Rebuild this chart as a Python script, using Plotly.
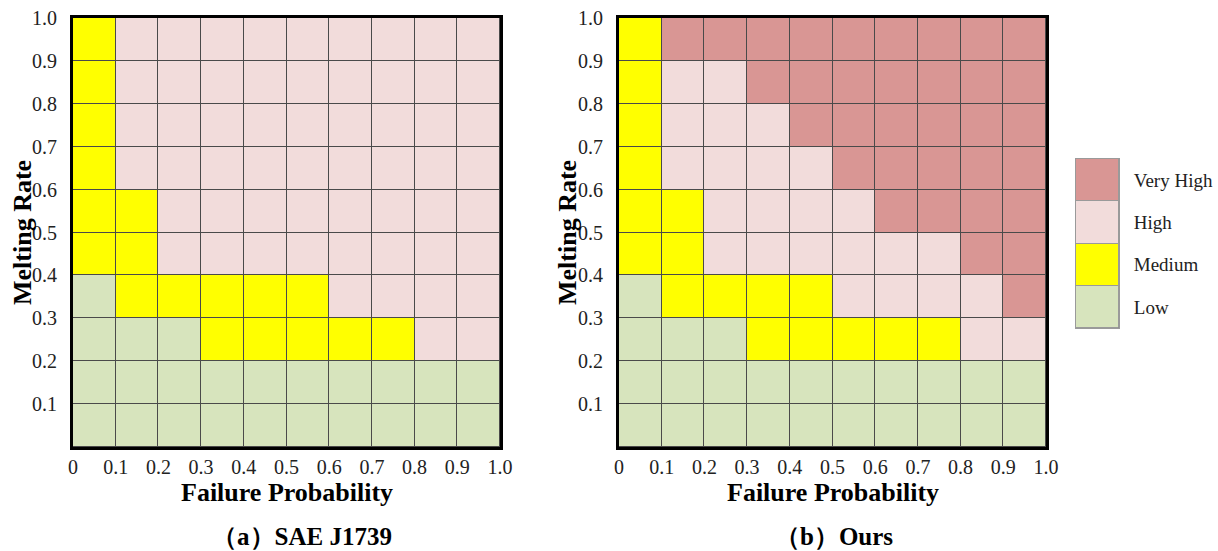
import plotly.graph_objects as go

# ---- data ----
levels = ["Low", "Medium", "High", "Very High"]
level_colors = ["#D7E4BD", "#FFFF00", "#F2DCDB", "#D99694"]

prob_centers = [0.05, 0.15, 0.25, 0.35, 0.45, 0.55, 0.65, 0.75, 0.85, 0.95]
rate_centers = [0.05, 0.15, 0.25, 0.35, 0.45, 0.55, 0.65, 0.75, 0.85, 0.95]

x_tickvals = [0, 0.1, 0.2, 0.3, 0.4, 0.5, 0.6, 0.7, 0.8, 0.9, 1.0]
x_ticktext = ["0", "0.1", "0.2", "0.3", "0.4", "0.5", "0.6", "0.7", "0.8", "0.9", "1.0"]
y_tickvals = [0.1, 0.2, 0.3, 0.4, 0.5, 0.6, 0.7, 0.8, 0.9, 1.0]
y_ticktext = ["0.1", "0.2", "0.3", "0.4", "0.5", "0.6", "0.7", "0.8", "0.9", "1.0"]

# rows from melting rate 0-0.1 (bottom) to 0.9-1.0 (top); 0=Low 1=Medium 2=High 3=Very High
sae_grid = [
    [0, 0, 0, 0, 0, 0, 0, 0, 0, 0],
    [0, 0, 0, 0, 0, 0, 0, 0, 0, 0],
    [0, 0, 0, 1, 1, 1, 1, 1, 2, 2],
    [0, 1, 1, 1, 1, 1, 2, 2, 2, 2],
    [1, 1, 2, 2, 2, 2, 2, 2, 2, 2],
    [1, 1, 2, 2, 2, 2, 2, 2, 2, 2],
    [1, 2, 2, 2, 2, 2, 2, 2, 2, 2],
    [1, 2, 2, 2, 2, 2, 2, 2, 2, 2],
    [1, 2, 2, 2, 2, 2, 2, 2, 2, 2],
    [1, 2, 2, 2, 2, 2, 2, 2, 2, 2],
]
ours_grid = [
    [0, 0, 0, 0, 0, 0, 0, 0, 0, 0],
    [0, 0, 0, 0, 0, 0, 0, 0, 0, 0],
    [0, 0, 0, 1, 1, 1, 1, 1, 2, 2],
    [0, 1, 1, 1, 1, 2, 2, 2, 2, 3],
    [1, 1, 2, 2, 2, 2, 2, 2, 3, 3],
    [1, 1, 2, 2, 2, 2, 3, 3, 3, 3],
    [1, 2, 2, 2, 2, 3, 3, 3, 3, 3],
    [1, 2, 2, 2, 3, 3, 3, 3, 3, 3],
    [1, 2, 2, 3, 3, 3, 3, 3, 3, 3],
    [1, 3, 3, 3, 3, 3, 3, 3, 3, 3],
]
legend_values = [1, 1, 1, 1]
legend_bases = [0, 1, 2, 3]

# ---- figure ----
W, H = 1218, 551
serif = "Liberation Serif, Times New Roman, serif"
GRID = "#4a4a4a"

colorscale = []
n = len(level_colors)
for i, c in enumerate(level_colors):
    colorscale.append([i / n, c])
    colorscale.append([(i + 1) / n, c])

fig = go.Figure()

for grid, xa, ya in [(sae_grid, "x", "y"), (ours_grid, "x2", "y2")]:
    fig.add_trace(go.Heatmap(
        z=grid, x=prob_centers, y=rate_centers,
        colorscale=colorscale, zmin=-0.5, zmax=3.5, showscale=False,
        xgap=1, ygap=1, xaxis=xa, yaxis=ya, hoverinfo="skip",
    ))

# legend as a stacked column of boxes
fig.add_trace(go.Bar(
    x=[0, 0, 0, 0], y=legend_values, base=legend_bases,
    marker=dict(color=level_colors, line=dict(color="#9a9a9a", width=1)),
    width=1, xaxis="x3", yaxis="y3", hoverinfo="skip", showlegend=False,
))

def px_x(a, b):
    return [a / W, b / W]

def px_y(top, bottom):
    return [1 - bottom / H, 1 - top / H]

axis_common = dict(
    range=[0, 1], showgrid=False, zeroline=False, ticks="", automargin=False,
    showline=True, linewidth=3, linecolor="black", mirror=True,
    tickfont=dict(family=serif, size=20, color="#222"),
)

fig.update_layout(
    width=W, height=H,
    margin=dict(l=0, r=0, t=0, b=0, autoexpand=False),
    paper_bgcolor="white", plot_bgcolor=GRID,
    showlegend=False,
    xaxis=dict(domain=px_x(73, 500), anchor="y", tickvals=x_tickvals, ticktext=x_ticktext,
               ticklabelstandoff=0, **axis_common),
    yaxis=dict(domain=px_y(18, 447), anchor="x", tickvals=y_tickvals, ticktext=y_ticktext,
               ticklabelstandoff=9, **axis_common),
    xaxis2=dict(domain=px_x(619, 1046), anchor="y2", tickvals=x_tickvals, ticktext=x_ticktext,
                ticklabelstandoff=0, **axis_common),
    yaxis2=dict(domain=px_y(18, 447), anchor="x2", tickvals=y_tickvals, ticktext=y_ticktext,
                ticklabelstandoff=9, **axis_common),
    xaxis3=dict(domain=px_x(1076, 1119), anchor="y3", range=[-0.5, 0.5], showticklabels=False,
                showgrid=False, zeroline=False, ticks="", showline=True, linecolor="#9a9a9a",
                linewidth=1, mirror=True, automargin=False),
    yaxis3=dict(domain=px_y(159, 328), anchor="x3", range=[0, 4], side="right",
                tickvals=[0.5, 1.5, 2.5, 3.5], ticktext=levels, showgrid=False, zeroline=False,
                ticks="", showline=True, linecolor="#9a9a9a", linewidth=1, mirror=True,
                automargin=False, ticklabelstandoff=10,
                tickfont=dict(family=serif, size=19, color="#222")),
    bargap=0,
)

title_font = dict(family=serif, size=26, color="black")
ann = []
for cx, label in [(302, "（a）SAE J1739"), (834, "（b）Ours")]:
    ann.append(dict(x=cx / W, y=1 - 536 / H, xref="paper", yref="paper", text="<b>" + label + "</b>",
                    showarrow=False, font=dict(family=serif, size=25, color="black"),
                    xanchor="center", yanchor="middle"))
for cx in [287, 833]:
    ann.append(dict(x=cx / W, y=1 - 492 / H, xref="paper", yref="paper",
                    text="<b>Failure Probability</b>", showarrow=False, font=title_font,
                    xanchor="center", yanchor="middle"))
for cx in [22, 567]:
    ann.append(dict(x=cx / W, y=1 - 233 / H, xref="paper", yref="paper",
                    text="<b>Melting Rate</b>", showarrow=False, font=title_font, textangle=-90,
                    xanchor="center", yanchor="middle"))
fig.update_layout(annotations=ann)

fig.write_html(
    "out.html",
    config={"displayModeBar": False},
    post_script="document.body.style.margin='0';document.body.style.padding='0';document.body.style.overflow='hidden';",
)
